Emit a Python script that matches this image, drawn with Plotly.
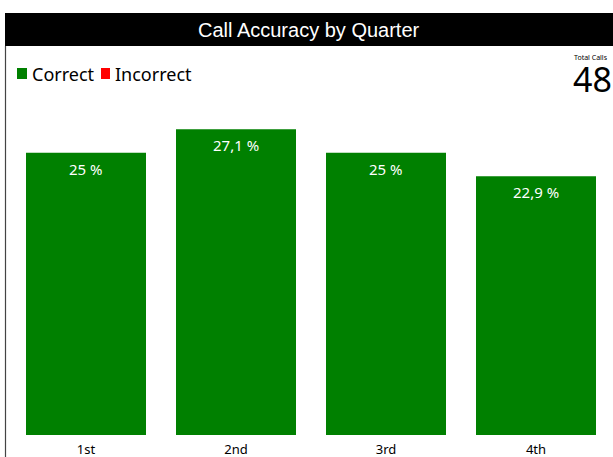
import plotly.graph_objects as go

quarters = ["1st", "2nd", "3rd", "4th"]
correct_calls = [12, 13, 12, 11]
incorrect_calls = [0, 0, 0, 0]
total_calls = sum(correct_calls) + sum(incorrect_calls)

pct_correct = [c / total_calls * 100 for c in correct_calls]
pct_incorrect = [c / total_calls * 100 for c in incorrect_calls]


def fmt(p):
    s = f"{p:.1f}"
    if s.endswith(".0"):
        s = s[:-2]
    return s.replace(".", ",") + " %"


W, H = 613, 457
L, R, T, B = 11, 2, 95, 22
PW, PH = W - L - R, H - T - B


def px(x):
    return (x - L) / PW


def py(y):
    return (H - B - y) / PH


FONT = "Noto Sans"
GREEN = "#008000"
RED = "#ff0000"

fig = go.Figure()
fig.add_trace(go.Bar(x=quarters, y=pct_correct, name="Correct",
                     marker=dict(color=GREEN, line=dict(width=0)),
                     showlegend=False, hoverinfo="skip"))
fig.add_trace(go.Bar(x=quarters, y=pct_incorrect, name="Incorrect",
                     marker=dict(color=RED, line=dict(width=0)),
                     showlegend=False, hoverinfo="skip"))

annotations = []
for q, p in zip(quarters, pct_correct):
    annotations.append(dict(x=q, y=p, xref="x", yref="y", text=fmt(p),
                            showarrow=False, yanchor="top", yshift=-4,
                            font=dict(family=FONT, size=15, color="white")))

annotations.append(dict(x=px(309), y=py(30), xref="paper", yref="paper",
                        text="Call Accuracy by Quarter", showarrow=False,
                        xanchor="center", yanchor="middle",
                        font=dict(family="Liberation Sans, Arial", size=20, color="white")))
annotations.append(dict(x=px(30), y=py(74), xref="paper", yref="paper",
                        text="Correct", showarrow=False,
                        xanchor="left", yanchor="middle",
                        font=dict(family=FONT, size=18, color="black")))
annotations.append(dict(x=px(113), y=py(74), xref="paper", yref="paper",
                        text="Incorrect", showarrow=False,
                        xanchor="left", yanchor="middle",
                        font=dict(family=FONT, size=18, color="black")))
annotations.append(dict(x=px(610), y=py(58), xref="paper", yref="paper",
                        text="Total Calls", showarrow=False,
                        xanchor="right", yanchor="middle",
                        font=dict(family=FONT, size=7, color="black")))
annotations.append(dict(x=px(614), y=py(79.5), xref="paper", yref="paper",
                        text=str(total_calls), showarrow=False,
                        xanchor="right", yanchor="middle",
                        font=dict(family=FONT, size=34, color="black")))

shapes = [
    dict(type="rect", xref="paper", yref="paper",
         x0=px(5), x1=px(613), y0=py(46), y1=py(13),
         fillcolor="black", line=dict(width=0), layer="above"),
    dict(type="line", xref="paper", yref="paper",
         x0=px(5.5), x1=px(5.5), y0=py(46), y1=py(457),
         line=dict(color="#444444", width=1.2)),
    dict(type="rect", xref="paper", yref="paper",
         x0=px(17), x1=px(27), y0=py(79), y1=py(68),
         fillcolor=GREEN, line=dict(width=0)),
    dict(type="rect", xref="paper", yref="paper",
         x0=px(101), x1=px(110), y0=py(79), y1=py(68),
         fillcolor=RED, line=dict(width=0)),
]

fig.update_layout(
    width=W, height=H,
    margin=dict(l=L, r=R, t=T, b=B, autoexpand=False),
    paper_bgcolor="white", plot_bgcolor="white",
    barmode="overlay", bargap=0.2,
    showlegend=False,
    annotations=annotations, shapes=shapes,
    xaxis=dict(showgrid=False, showline=False, zeroline=False, ticks="",
               ticklabelstandoff=5,
               tickfont=dict(family=FONT, size=13, color="black"),
               fixedrange=True),
    yaxis=dict(range=[0, PH / 11.29], visible=False, showgrid=False,
               zeroline=False, fixedrange=True),
    font=dict(family=FONT),
)

fig.write_html("out.html", config={"displayModeBar": False},
               post_script="document.body.style.margin='0px';"
                           "document.body.style.overflow='hidden';")
